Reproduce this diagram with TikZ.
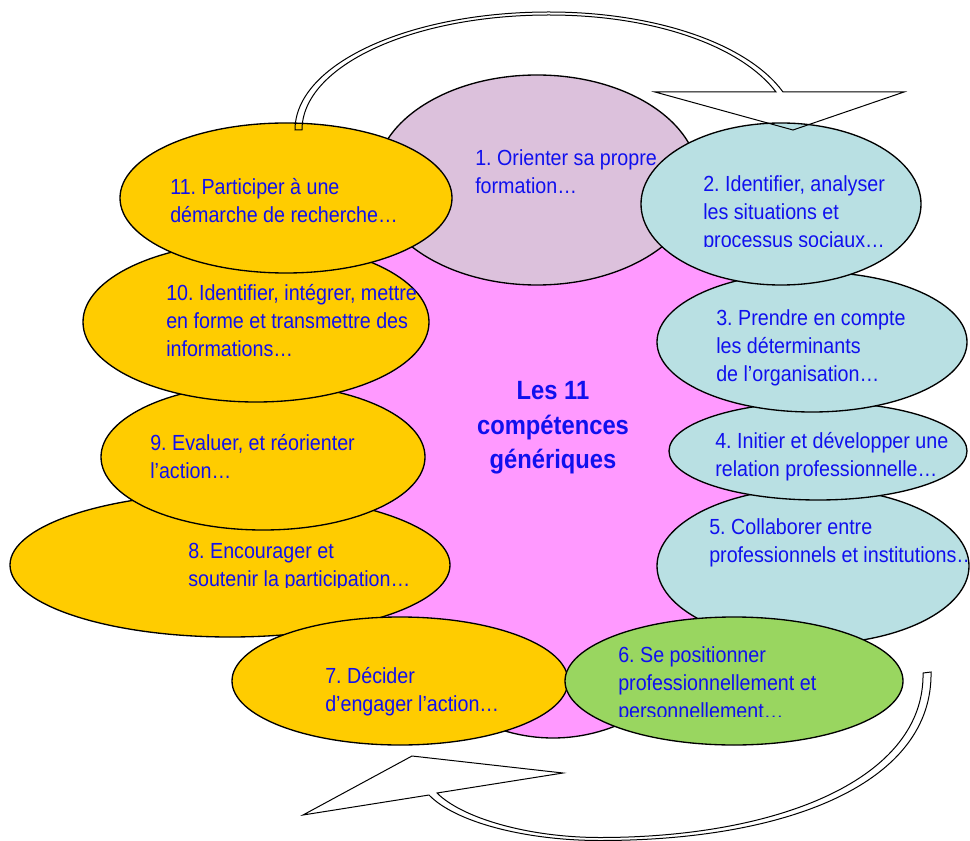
\documentclass[tikz,border=0pt]{standalone}
\usepackage{fontspec}
\setmainfont{Liberation Sans}[FakeStretch=0.9]
\usetikzlibrary{shapes.geometric}
\frenchspacing
\begin{document}
\begin{tikzpicture}[x=0.75pt, y=-0.75pt,
  bubble/.style={ellipse, draw, line width=1pt, inner sep=0pt},
  sun/.style={bubble, fill=sun},
  sky/.style={bubble, fill=sky},
  blurb/.style={anchor=west, align=left, inner sep=0pt, text=ink, font=\fontsize{16.4}{21}\selectfont},
  headline/.style={align=center, inner sep=0pt, text=ink, font=\fontsize{19.8}{25.9}\selectfont\bfseries},
  curl/.style={draw, line width=0.75pt, line join=miter}]
\definecolor{ink}{HTML}{1010EE}
\definecolor{core}{HTML}{FF99FF}
\definecolor{lilac}{HTML}{DCC1DC}
\definecolor{sky}{HTML}{B9E0E3}
\definecolor{sun}{HTML}{FFCC00}
\definecolor{leaf}{HTML}{99D660}
\useasboundingbox (0,0) rectangle (970,841);
\node[bubble, fill=core, minimum width=337.5pt, minimum height=462pt] (hub) at (553,430) {};
\node[bubble, fill=lilac, minimum width=243pt, minimum height=157.5pt] (c1) at (537,180) {};
\node[blurb] (t1) at (475,172) {1. Orienter sa propre\\formation…};
\node[sky, minimum width=234pt, minimum height=117pt] (c5) at (813,566) {};
\node[blurb] (t5) at (709,543) {5. Collaborer entre\\professionnels et institutions…};
\node[sky, minimum width=223.5pt, minimum height=73.5pt] (c4) at (818,451) {};
\node[blurb] (t4) at (715,457) {4. Initier et développer une\\relation professionnelle…};
\node[sky, minimum width=232.5pt, minimum height=105pt] (c3) at (812,342) {};
\node[blurb] (t3) at (716,348) {3. Prendre en compte\\les déterminants\\de l’organisation…};
\node[sky, minimum width=210pt, minimum height=121.5pt] (c2) at (781,204) {};
\begin{scope}
\clip (690,160) rectangle (930,247);
\node[blurb] (t2) at (703,214) {2. Identifier, analyser\\les situations et\\processus sociaux…};
\end{scope}
\node[sun, minimum width=330pt, minimum height=108pt] (c8) at (230,565) {};
\begin{scope}
\clip (170,530) rectangle (440,587);
\node[blurb] (t8) at (188,567) {8. Encourager et\\soutenir la participation…};
\end{scope}
\node[sun, minimum width=243pt, minimum height=109.5pt] (c9) at (263,457) {};
\node[blurb] (t9) at (150,457) {9. Evaluer, et réorienter\\l’action…};
\node[sun, minimum width=259.5pt, minimum height=120pt] (c10) at (256,322) {};
\node[blurb] (t10) at (166,321) {10. Identifier, intégrer, mettre\\en forme et transmettre des\\informations…};
\node[sun, minimum width=249pt, minimum height=112.5pt] (c11) at (286,198) {};
\node[blurb] (t11) at (170,201) {11. Participer à une\\démarche de recherche…};
\node[sun, minimum width=252pt, minimum height=96pt] (c7) at (400,681) {};
\node[blurb] (t7) at (325,692) {7. Décider\\d’engager l’action…};
\node[bubble, fill=leaf, minimum width=253.5pt, minimum height=96pt] (c6) at (734,681) {};
\begin{scope}
\clip (600,640) rectangle (900,716);
\node[blurb] (t6) at (618,685) {6. Se positionner\\professionnellement et\\personnellement…};
\end{scope}
\node[headline] (title) at (553,428) {Les 11\\compétences\\génériques};
\draw[curl] (783,92) .. controls (748,44) and (656,12) .. (549,12) .. controls (409,12) and (295,64) .. (295,130) -- (302,130) .. controls (302,66) and (412,15) .. (549,15) .. controls (656,15) and (742,47) .. (776,92) -- (655,92) -- (793,130) -- (904,92) -- cycle;
\draw[curl] (437,793) -- (563,773) -- (412,756) -- (303,815) -- (429,795) .. controls (455,822) and (525,840.5) .. (600,840.5) .. controls (790,840.5) and (933,782) .. (931,672) -- (923,673) .. controls (925,778) and (780,837.5) .. (600,837.5) .. controls (528,837.5) and (462,818) .. (437,793) -- cycle;
\end{tikzpicture}
\end{document}
